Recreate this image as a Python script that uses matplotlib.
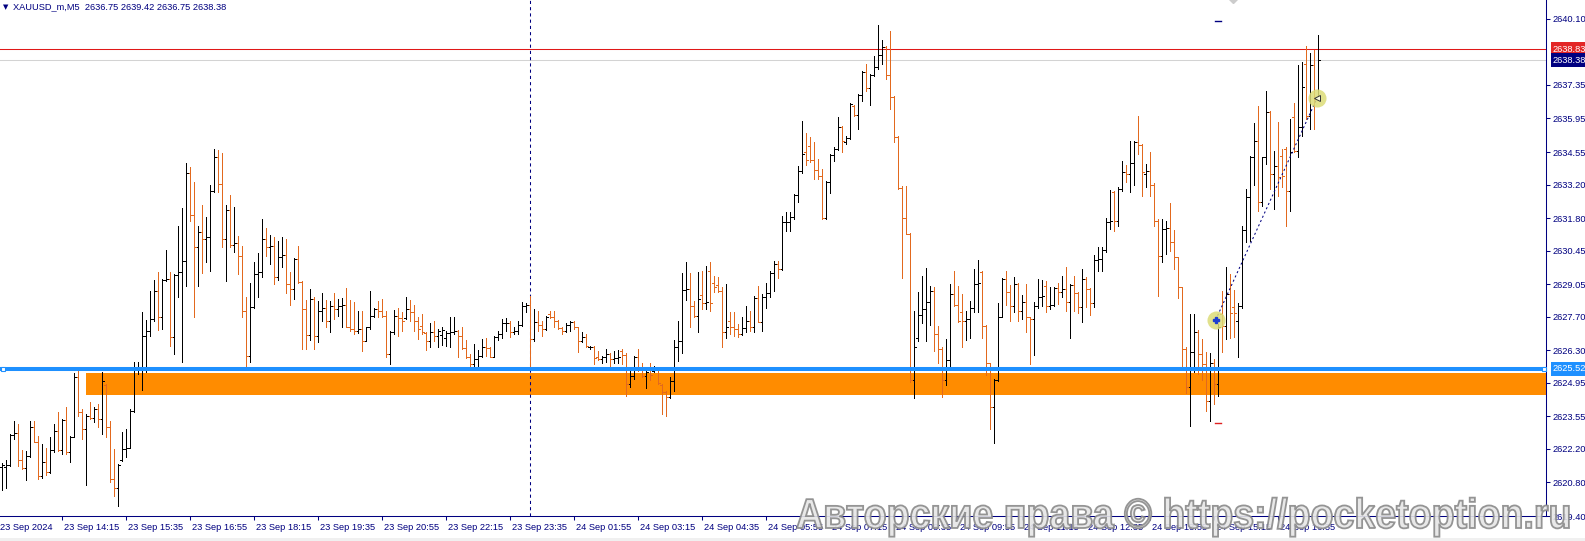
import matplotlib
matplotlib.use('Agg')
import numpy as np
import matplotlib.pyplot as plt
from matplotlib.patches import Rectangle, PathPatch
from matplotlib.textpath import TextPath
from matplotlib.font_manager import FontProperties
from matplotlib.transforms import Affine2D

plt.rcParams['font.family'] = ['Liberation Sans', 'DejaVu Sans']

# --- XAUUSD M5 bars (index 0 = 23 Sep 13:00) ---
opens = [
    2621.42, 2621.45, 2621.53, 2622.79, 2622.85, 2621.74, 2621.38, 2621.91, 2623.11, 2622.49,
    2621.07, 2621.63, 2621.24, 2622.14, 2622.95, 2622.16, 2623.39, 2622.05, 2622.70, 2625.17,
    2623.74, 2623.02, 2623.57, 2623.50, 2623.85, 2623.44, 2624.85, 2623.11, 2620.94, 2620.56,
    2621.73, 2622.18, 2622.25, 2623.78, 2625.59, 2625.62, 2626.91, 2627.09, 2627.60, 2628.78,
    2627.70, 2629.23, 2629.25, 2626.84, 2629.45, 2629.55, 2630.03, 2633.67, 2631.94, 2630.59,
    2631.21, 2630.94, 2631.00, 2632.92, 2634.34, 2633.23, 2630.94, 2632.12, 2630.70, 2630.77,
    2630.24, 2627.92, 2626.07, 2628.09, 2629.48, 2629.55, 2630.94, 2630.59, 2630.62, 2629.37,
    2630.20, 2630.25, 2629.06, 2628.85, 2630.10, 2629.13, 2628.02, 2626.94, 2628.44, 2626.91,
    2627.95, 2628.05, 2627.53, 2628.16, 2628.02, 2628.16, 2628.20, 2627.28, 2627.19, 2627.12,
    2627.19, 2626.70, 2627.26, 2627.74, 2628.02, 2627.92, 2627.74, 2626.14, 2627.05, 2627.74,
    2627.64, 2627.64, 2628.02, 2627.88, 2627.53, 2627.30, 2627.00, 2626.67, 2627.05, 2626.88,
    2626.95, 2626.80, 2627.01, 2627.08, 2627.12, 2626.91, 2626.38, 2626.01, 2625.73, 2625.94,
    2626.07, 2626.42, 2626.39, 2626.03, 2626.87, 2626.98, 2627.42, 2627.45, 2627.05, 2627.12,
    2627.35, 2628.16, 2628.20, 2626.77, 2627.46, 2627.37, 2627.19, 2627.80, 2627.70, 2627.51,
    2627.23, 2627.09, 2627.37, 2627.46, 2627.26, 2626.67, 2626.87, 2626.45, 2626.45, 2626.00,
    2625.95, 2626.01, 2626.14, 2625.94, 2625.97, 2626.28, 2626.12, 2624.89, 2625.24, 2626.01,
    2625.59, 2625.24, 2625.60, 2625.45, 2625.56, 2624.85, 2624.55, 2624.37, 2625.03, 2626.45,
    2626.70, 2628.81, 2628.85, 2628.16, 2627.74, 2628.60, 2628.26, 2629.60, 2629.10, 2629.00,
    2628.78, 2627.05, 2627.50, 2627.26, 2627.19, 2626.98, 2627.23, 2627.53, 2627.26, 2628.48,
    2627.49, 2628.53, 2628.67, 2629.51, 2629.89, 2629.69, 2631.63, 2631.65, 2631.84, 2632.77,
    2633.76, 2634.54, 2634.82, 2634.22, 2633.81, 2633.57, 2631.81, 2633.29, 2634.44, 2634.68,
    2635.58, 2634.95, 2635.15, 2636.45, 2636.11, 2636.93, 2637.87, 2637.22, 2637.74, 2638.11,
    2638.60, 2638.94, 2637.74, 2636.83, 2635.17, 2633.06, 2631.81, 2631.14, 2625.05, 2626.80,
    2627.78, 2628.00, 2628.29, 2628.78, 2626.97, 2626.35, 2625.05, 2625.89, 2628.64, 2628.20,
    2627.90, 2627.53, 2627.60, 2628.08, 2629.05, 2629.54, 2627.32, 2625.75, 2623.92, 2625.05,
    2627.69, 2629.26, 2628.71, 2628.15, 2629.05, 2627.94, 2628.29, 2627.67, 2627.60, 2628.15,
    2628.53, 2628.99, 2628.15, 2628.20, 2628.89, 2628.71, 2628.85, 2628.29, 2629.03, 2628.67,
    2628.11, 2629.27, 2628.85, 2628.25, 2630.06, 2630.10, 2630.47, 2631.63, 2632.88, 2631.70,
    2633.02, 2633.71, 2633.64, 2634.09, 2634.96, 2634.86, 2633.65, 2633.75, 2633.20, 2631.70,
    2630.24, 2631.35, 2631.38, 2630.80, 2630.17, 2628.92, 2626.35, 2624.75, 2626.21, 2627.04,
    2626.14, 2625.72, 2624.20, 2625.79, 2624.90, 2627.81, 2627.32, 2628.64, 2628.10, 2627.53,
    2628.15, 2631.31, 2632.67, 2634.36, 2635.00, 2632.46, 2634.33, 2636.21, 2633.64, 2633.99,
    2634.40, 2634.68, 2632.92, 2636.00, 2634.59, 2635.60, 2638.22, 2636.07, 2638.16, 2636.75,
]
highs = [
    2621.59, 2621.73, 2622.81, 2623.36, 2623.22, 2622.14, 2622.12, 2623.36, 2623.36, 2622.74,
    2622.39, 2622.25, 2622.70, 2623.22, 2623.71, 2623.44, 2623.92, 2622.74, 2625.34, 2625.42,
    2623.85, 2623.64, 2624.13, 2623.92, 2624.06, 2625.38, 2624.89, 2623.36, 2622.18, 2621.56,
    2622.88, 2623.02, 2623.85, 2625.80, 2625.80, 2627.88, 2627.57, 2628.76, 2629.24, 2629.55,
    2629.27, 2630.48, 2629.55, 2629.48, 2631.49, 2632.23, 2634.09, 2633.95, 2633.30, 2631.49,
    2632.33, 2631.84, 2633.20, 2634.66, 2634.62, 2634.52, 2632.33, 2632.78, 2632.28, 2631.05,
    2630.63, 2628.53, 2629.09, 2629.96, 2630.35, 2631.77, 2631.38, 2631.10, 2631.03, 2630.84,
    2631.03, 2630.94, 2629.55, 2630.14, 2630.62, 2629.20, 2628.39, 2628.85, 2628.53, 2628.37,
    2628.69, 2628.39, 2628.37, 2628.69, 2628.44, 2628.48, 2628.89, 2628.39, 2628.30, 2627.92,
    2627.95, 2627.28, 2628.78, 2628.06, 2628.34, 2628.44, 2627.95, 2627.09, 2627.98, 2628.06,
    2627.88, 2628.53, 2628.39, 2628.20, 2627.70, 2627.81, 2627.05, 2627.42, 2627.51, 2627.19,
    2627.26, 2627.12, 2627.70, 2627.70, 2627.15, 2627.28, 2626.73, 2626.14, 2626.56, 2626.31,
    2626.77, 2626.81, 2626.42, 2626.91, 2627.09, 2627.60, 2627.63, 2627.51, 2627.28, 2627.53,
    2628.33, 2628.26, 2628.57, 2628.02, 2627.95, 2627.53, 2627.74, 2627.95, 2627.92, 2627.55,
    2627.28, 2627.42, 2627.51, 2627.51, 2627.28, 2627.07, 2626.98, 2626.49, 2626.48, 2626.28,
    2626.07, 2626.35, 2626.17, 2626.26, 2626.31, 2626.35, 2626.17, 2625.45, 2626.07, 2626.35,
    2625.76, 2625.42, 2625.76, 2625.66, 2625.59, 2624.89, 2624.62, 2625.17, 2626.73, 2627.51,
    2629.51, 2629.96, 2629.51, 2628.37, 2629.55, 2629.59, 2629.82, 2629.96, 2629.41, 2629.34,
    2628.92, 2629.06, 2627.88, 2627.88, 2627.39, 2627.67, 2628.16, 2627.92, 2628.57, 2628.99,
    2628.64, 2629.09, 2629.59, 2630.03, 2630.03, 2631.91, 2632.05, 2632.05, 2632.81, 2633.99,
    2635.86, 2635.33, 2635.19, 2634.96, 2634.26, 2633.85, 2633.36, 2634.47, 2634.75, 2636.03,
    2635.65, 2635.23, 2636.58, 2636.49, 2636.97, 2637.94, 2638.22, 2637.81, 2638.53, 2639.86,
    2639.22, 2638.98, 2639.58, 2636.88, 2635.20, 2633.15, 2633.15, 2631.20, 2627.94, 2628.71,
    2629.40, 2629.72, 2628.99, 2628.94, 2627.32, 2626.42, 2626.76, 2629.05, 2629.58, 2628.99,
    2628.64, 2627.94, 2628.36, 2629.68, 2630.05, 2629.58, 2627.36, 2625.79, 2625.10, 2628.25,
    2629.30, 2629.58, 2629.03, 2629.33, 2629.08, 2628.61, 2629.05, 2627.70, 2628.29, 2629.26,
    2629.22, 2629.19, 2628.92, 2628.94, 2629.12, 2629.40, 2629.78, 2629.06, 2629.40, 2628.71,
    2629.68, 2629.34, 2628.88, 2630.28, 2630.59, 2630.59, 2631.81, 2632.97, 2632.95, 2633.09,
    2634.17, 2634.03, 2635.00, 2635.03, 2636.07, 2634.90, 2634.06, 2634.54, 2633.25, 2631.75,
    2631.77, 2631.67, 2632.42, 2631.31, 2630.20, 2628.95, 2626.42, 2627.81, 2627.81, 2627.14,
    2626.77, 2626.21, 2626.17, 2625.93, 2627.39, 2628.78, 2629.75, 2629.48, 2628.81, 2628.25,
    2631.49, 2633.02, 2634.40, 2635.75, 2636.45, 2634.36, 2637.09, 2636.25, 2634.61, 2635.79,
    2634.68, 2634.75, 2635.93, 2636.59, 2638.16, 2638.29, 2638.95, 2638.67, 2638.81, 2639.42,
]
lows = [
    2620.48, 2620.55, 2621.50, 2622.60, 2621.49, 2621.35, 2620.89, 2621.84, 2622.46, 2620.94,
    2621.00, 2621.12, 2621.20, 2622.05, 2622.12, 2621.98, 2621.98, 2621.63, 2622.67, 2623.57,
    2622.60, 2620.70, 2623.44, 2623.30, 2623.11, 2622.81, 2622.67, 2620.80, 2620.24, 2619.82,
    2621.70, 2621.84, 2622.25, 2623.71, 2625.31, 2624.64, 2625.38, 2626.91, 2627.51, 2627.14,
    2627.19, 2629.17, 2626.49, 2626.14, 2628.51, 2625.80, 2628.99, 2631.70, 2627.70, 2628.96,
    2629.51, 2629.96, 2629.59, 2632.90, 2632.88, 2630.59, 2629.17, 2630.59, 2630.38, 2629.48,
    2627.67, 2625.59, 2625.80, 2628.06, 2628.51, 2629.37, 2630.24, 2629.89, 2629.06, 2629.23,
    2629.76, 2628.67, 2628.20, 2628.44, 2629.09, 2626.35, 2626.35, 2626.73, 2626.35, 2626.63,
    2627.53, 2627.26, 2627.05, 2627.60, 2627.74, 2627.28, 2627.26, 2627.09, 2626.98, 2627.01,
    2626.26, 2626.67, 2627.20, 2627.70, 2627.70, 2627.70, 2626.01, 2625.73, 2626.98, 2626.91,
    2627.12, 2627.60, 2627.51, 2627.12, 2626.77, 2626.98, 2626.31, 2626.42, 2626.67, 2626.45,
    2626.53, 2626.49, 2626.45, 2626.98, 2626.01, 2626.35, 2625.98, 2625.66, 2625.66, 2625.55,
    2626.03, 2626.07, 2626.01, 2626.01, 2626.73, 2626.81, 2627.12, 2626.84, 2626.98, 2626.98,
    2627.30, 2627.88, 2625.59, 2626.70, 2627.12, 2626.91, 2627.14, 2627.64, 2627.28, 2627.19,
    2626.98, 2627.05, 2627.12, 2627.19, 2626.21, 2626.63, 2626.42, 2626.35, 2625.73, 2625.89,
    2625.76, 2625.80, 2625.66, 2625.76, 2625.76, 2625.73, 2624.41, 2624.76, 2625.10, 2625.45,
    2625.17, 2624.73, 2625.06, 2625.38, 2624.89, 2623.64, 2623.57, 2624.31, 2624.62, 2625.84,
    2626.17, 2628.39, 2627.26, 2627.67, 2627.05, 2628.02, 2628.02, 2627.95, 2628.71, 2628.71,
    2626.45, 2626.81, 2626.98, 2626.91, 2626.84, 2626.95, 2627.05, 2627.09, 2627.05, 2627.46,
    2627.12, 2628.06, 2628.51, 2628.76, 2629.31, 2629.65, 2631.28, 2631.26, 2631.77, 2632.46,
    2633.67, 2634.03, 2634.12, 2633.43, 2633.43, 2631.76, 2631.75, 2632.83, 2634.19, 2634.62,
    2634.54, 2634.89, 2635.10, 2636.07, 2635.51, 2636.69, 2637.08, 2636.49, 2637.70, 2638.01,
    2638.22, 2637.60, 2636.35, 2634.96, 2633.01, 2629.30, 2631.14, 2624.96, 2624.30, 2626.69,
    2627.42, 2626.69, 2627.35, 2626.28, 2625.75, 2624.36, 2624.86, 2625.51, 2628.15, 2627.46,
    2626.42, 2626.72, 2626.83, 2627.88, 2627.88, 2626.81, 2625.28, 2623.01, 2622.42, 2625.00,
    2627.67, 2628.19, 2627.50, 2627.88, 2627.50, 2627.60, 2627.04, 2625.72, 2626.11, 2628.08,
    2628.15, 2627.88, 2628.01, 2628.15, 2628.22, 2628.50, 2627.95, 2626.81, 2627.95, 2627.84,
    2627.46, 2628.09, 2627.78, 2628.11, 2629.61, 2629.61, 2630.38, 2631.35, 2631.28, 2631.49,
    2632.92, 2633.29, 2632.88, 2633.16, 2634.47, 2632.74, 2633.09, 2632.74, 2631.49, 2628.57,
    2629.96, 2630.31, 2630.45, 2629.68, 2628.47, 2625.66, 2624.50, 2623.15, 2625.38, 2625.31,
    2625.06, 2623.78, 2623.36, 2624.06, 2624.41, 2626.21, 2626.77, 2626.81, 2626.84, 2626.03,
    2628.06, 2630.79, 2630.86, 2633.16, 2632.11, 2632.32, 2634.06, 2633.02, 2632.18, 2632.74,
    2633.09, 2631.49, 2632.09, 2634.54, 2634.33, 2635.24, 2635.93, 2635.52, 2635.52, 2636.75,
]
closes = [
    2621.53, 2621.53, 2622.79, 2622.84, 2621.74, 2621.38, 2621.91, 2623.11, 2622.49, 2621.07,
    2621.63, 2621.24, 2622.14, 2622.95, 2622.16, 2623.39, 2622.05, 2622.70, 2625.17, 2623.74,
    2623.02, 2623.57, 2623.50, 2623.85, 2623.44, 2625.03, 2623.11, 2620.94, 2620.56, 2621.52,
    2622.18, 2622.25, 2623.78, 2625.59, 2625.62, 2626.91, 2627.09, 2627.60, 2628.78, 2627.70,
    2629.23, 2629.25, 2626.84, 2629.45, 2629.55, 2630.03, 2633.67, 2631.94, 2630.59, 2631.21,
    2630.94, 2631.00, 2632.92, 2634.34, 2633.23, 2630.94, 2632.12, 2630.70, 2630.77, 2630.24,
    2627.92, 2626.07, 2628.09, 2629.48, 2629.55, 2630.94, 2630.59, 2630.62, 2629.37, 2630.20,
    2630.25, 2629.06, 2628.85, 2630.10, 2629.13, 2628.02, 2626.94, 2628.44, 2626.91, 2627.95,
    2628.05, 2627.53, 2628.16, 2628.02, 2628.16, 2628.20, 2627.28, 2627.19, 2627.12, 2627.19,
    2626.70, 2627.26, 2627.74, 2628.02, 2627.92, 2627.74, 2626.14, 2627.05, 2627.74, 2627.64,
    2627.53, 2628.02, 2627.88, 2627.53, 2627.19, 2627.05, 2626.67, 2627.05, 2626.88, 2627.12,
    2627.14, 2627.01, 2627.08, 2627.12, 2626.91, 2626.38, 2626.01, 2625.73, 2625.94, 2626.07,
    2626.42, 2626.39, 2626.03, 2626.87, 2626.98, 2627.42, 2627.45, 2627.05, 2627.12, 2627.35,
    2628.16, 2628.20, 2626.77, 2627.46, 2627.37, 2627.19, 2627.70, 2627.70, 2627.51, 2627.23,
    2627.09, 2627.37, 2627.46, 2627.26, 2626.67, 2626.87, 2626.49, 2626.45, 2625.98, 2625.95,
    2626.01, 2626.14, 2625.94, 2625.97, 2626.00, 2626.12, 2624.89, 2625.24, 2626.01, 2625.59,
    2625.24, 2625.38, 2625.25, 2625.56, 2624.92, 2624.55, 2624.37, 2625.03, 2626.45, 2626.70,
    2628.81, 2628.85, 2628.16, 2627.74, 2628.44, 2628.26, 2628.30, 2628.28, 2628.92, 2628.78,
    2627.05, 2627.26, 2627.26, 2627.19, 2626.98, 2627.23, 2627.53, 2627.26, 2628.48, 2627.49,
    2628.53, 2628.67, 2629.51, 2629.89, 2629.69, 2631.63, 2631.65, 2631.84, 2632.77, 2633.76,
    2634.47, 2634.22, 2634.22, 2633.81, 2633.57, 2631.81, 2633.29, 2634.44, 2634.68, 2635.58,
    2635.03, 2635.15, 2636.55, 2636.11, 2636.93, 2637.87, 2637.22, 2637.74, 2638.11, 2638.60,
    2638.94, 2637.74, 2636.83, 2635.17, 2633.06, 2631.81, 2631.16, 2625.05, 2626.44, 2627.78,
    2628.00, 2628.29, 2628.78, 2626.97, 2626.35, 2625.05, 2625.89, 2628.64, 2628.20, 2627.50,
    2627.53, 2627.60, 2628.08, 2629.05, 2629.10, 2627.32, 2625.75, 2623.92, 2625.05, 2627.69,
    2629.26, 2628.71, 2628.15, 2629.05, 2627.94, 2628.29, 2627.67, 2627.60, 2628.15, 2628.53,
    2628.57, 2628.15, 2628.20, 2628.89, 2628.71, 2628.85, 2628.29, 2629.03, 2628.67, 2628.11,
    2629.27, 2628.85, 2628.25, 2630.06, 2630.10, 2630.47, 2631.63, 2631.70, 2631.70, 2633.02,
    2633.71, 2633.64, 2634.09, 2634.96, 2634.86, 2633.71, 2633.75, 2633.20, 2631.70, 2630.24,
    2631.35, 2631.38, 2630.80, 2630.17, 2628.92, 2626.35, 2624.75, 2626.21, 2627.04, 2626.14,
    2625.72, 2624.20, 2625.79, 2624.90, 2627.25, 2627.32, 2628.64, 2627.84, 2627.84, 2628.15,
    2631.31, 2632.67, 2634.36, 2635.00, 2632.46, 2634.33, 2636.21, 2633.64, 2633.99, 2633.50,
    2633.55, 2632.92, 2634.54, 2634.59, 2635.60, 2637.25, 2636.07, 2638.16, 2636.75, 2638.38,
]

price_ticks = [2640.10, 2637.35, 2635.95, 2634.55, 2633.20, 2631.80, 2630.45, 2629.05,
               2627.70, 2626.30, 2624.95, 2623.55, 2622.20, 2620.80, 2619.40]
time_idx = [-1, 15, 31, 47, 63, 79, 95, 111, 127, 143, 159, 175, 191, 207, 223, 239,
            255, 271, 287, 303, 319]
time_labels = ['23 Sep 2024', '23 Sep 14:15', '23 Sep 15:35', '23 Sep 16:55', '23 Sep 18:15',
               '23 Sep 19:35', '23 Sep 20:55', '23 Sep 22:15', '23 Sep 23:35', '24 Sep 01:55',
               '24 Sep 03:15', '24 Sep 04:35', '24 Sep 05:55', '24 Sep 07:15', '24 Sep 08:35',
               '24 Sep 09:55', '24 Sep 11:15', '24 Sep 12:35', '24 Sep 13:55', '24 Sep 15:15',
               '24 Sep 16:35']

# chart objects
support_level = 2625.52
zone_lo, zone_hi, zone_start = 2624.43, 2625.34, 21
red_level = 2638.83
bid_level = 2638.38
day_sep = 132
trend_x = [303.4, 328.75]
trend_y = [2627.56, 2636.79]
title = 'XAUUSD_m,M5  2636.75 2639.42 2636.75 2638.38'
watermark = 'Авторские права © https://pocketoption.ru'

NAVY = '#000080'
ORANGE = '#e2691e'
BLUE = '#1e90ff'

W, H = 1585, 541
AX_R, AX_B = 1546, 516
PX_PER_UNIT = 24.02

fig = plt.figure(figsize=(W / 100, H / 100), dpi=100)
fig.patch.set_facecolor('white')
ax = fig.add_axes([0, (H - AX_B) / H, AX_R / W, AX_B / H])

o = np.array(opens); h = np.array(highs); l = np.array(lows); c = np.array(closes)
x = np.arange(len(o))
cols = np.where(c >= o, 'black', ORANGE)

# thin 1px bars: vertical range plus open (left) and close (right) ticks
ax.vlines(x, l, h, colors=cols, lw=0.5, antialiased=False, zorder=3)
ax.hlines(o, x - 0.4, x, colors=cols, lw=0.5, antialiased=False, zorder=3)
ax.hlines(c, x, x + 0.4, colors=cols, lw=0.5, antialiased=False, zorder=3)

xmax = (AX_R - 2) / 4
ymin = 2619.40
ymax = ymin + AX_B / PX_PER_UNIT
ax.set_xlim(-0.5, xmax)
ax.set_ylim(ymin, ymax)

# orange zone + blue level
ax.add_patch(Rectangle((zone_start, zone_lo), xmax - zone_start + 1, zone_hi - zone_lo,
                       fc='#ff8c00', ec='none', zorder=1))
ax.axhline(support_level, color=BLUE, lw=2.9, zorder=4)
ax.plot([0.2, xmax - 0.6], [support_level] * 2, 's', ms=3.5, mfc='white', mec=BLUE,
        mew=0.8, zorder=5, clip_on=False)
ax.axhline(red_level, color='#e01818', lw=0.75, zorder=2)
ax.axhline(bid_level, color='#d3d3d3', lw=0.75, zorder=2)
ax.axvline(day_sep, color=NAVY, lw=0.75, ls=(0, (3, 3)), zorder=2)

# trade line with end markers
ax.plot(trend_x, trend_y, color=NAVY, lw=0.75, ls=(0, (2, 2.5)), zorder=5)
ax.plot(trend_x, trend_y, 'o', ms=13, color='#dcdc78', alpha=0.85, mec='none', zorder=6)
ax.plot(trend_x[0], trend_y[0], 'P', ms=5, color='#1f3fd0', zorder=7)
ax.plot(trend_x[1], trend_y[1], '<', ms=5, mfc='#fbfbe0', mec='#333333', mew=0.7, zorder=7)
ax.plot([303.3, 304.8], [2640.01] * 2, color=NAVY, lw=1.0, zorder=5)
ax.plot([303.3, 304.8], [2623.27] * 2, color='#e02020', lw=1.0, zorder=5)
ax.plot(307.75, 2640.98, 'D', ms=5, color='#cccccc', zorder=5)

# axes styling
for s in ('left', 'top'):
    ax.spines[s].set_visible(False)
for s in ('right', 'bottom'):
    ax.spines[s].set_color(NAVY)
    ax.spines[s].set_linewidth(0.75)
ax.yaxis.tick_right()
ax.set_yticks(price_ticks)
ax.set_yticklabels([f'{v:.2f}' for v in price_ticks])
ax.tick_params(axis='y', colors=NAVY, labelsize=6.7, length=3, width=0.75, pad=2)
ax.set_xticks(time_idx[1:])
ax.set_xticklabels([])
ax.tick_params(axis='x', colors=NAVY, length=3, width=0.75)
xt = ax.get_xaxis_transform()
for i, lab in zip(time_idx, time_labels):
    ax.text(i + 0.5, -11 / AX_B, lab, transform=xt, ha='left', va='center',
            fontsize=6.7, color=NAVY, clip_on=False)

# coloured price labels on the axis
yt = ax.get_yaxis_transform()
for v, fc in [(red_level, '#e32626'), (bid_level, NAVY), (support_level, BLUE)]:
    ax.annotate(f'{v:.2f}', xy=(1, v), xycoords=yt, xytext=(7, 0), textcoords='offset pixels',
                ha='left', va='center', color='white', fontsize=6.7, annotation_clip=False,
                bbox=dict(boxstyle='square,pad=0.25', fc=fc, ec='none'), zorder=8)

# title
fig.text(3 / W, 1 - 7 / H, '▼', family='DejaVu Sans', fontsize=5, color=NAVY, va='center')
fig.text(13 / W, 1 - 7 / H, title, fontsize=6.7, color=NAVY, va='center')

# watermark
fp = FontProperties(family='Liberation Sans', weight='bold')
tp = TextPath((0, 0), watermark, size=100, prop=fp)
bb = tp.get_extents()
sx = 772 / bb.width
sy = 30 / 71.6
tr = (Affine2D().translate(-bb.x0, 0).scale(sx, sy).translate(797, 13)
      .scale(1 / W, 1 / H) + fig.transFigure)
fig.add_artist(PathPatch(tp, transform=tr, fc='#e6e6e6', ec='#8a8a8a', lw=1.3, alpha=0.9))

fig.add_artist(Rectangle((0, 0), 1, 3 / H, transform=fig.transFigure, fc='#f0f0f0', ec='none'))

fig.savefig('out.png', dpi=100)
